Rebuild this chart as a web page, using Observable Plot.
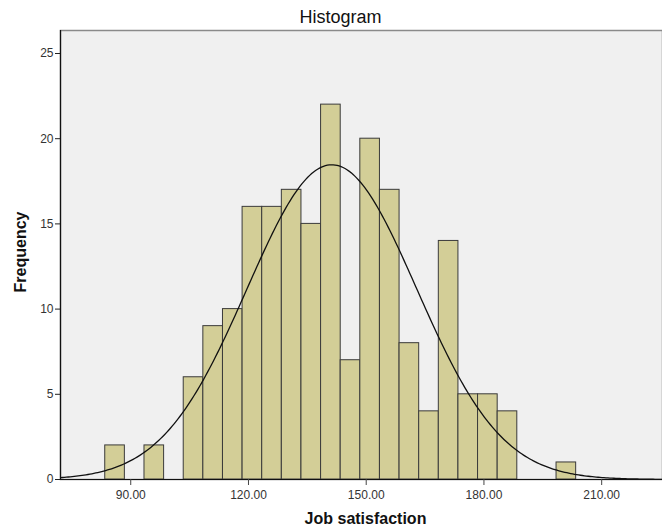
<!DOCTYPE html>
<html>
<head>
<meta charset="utf-8">
<script src="https://cdn.jsdelivr.net/npm/d3@7"></script>
<script src="https://cdn.jsdelivr.net/npm/@observablehq/plot@0.6"></script>
<style>
  html, body { margin: 0; padding: 0; background: #fff; }
  svg { font-family: "Liberation Sans", Arial, sans-serif; }
</style>
</head>
<body>
<div id="chart"></div>
<script>
// Bin left edges (width 5) and frequencies
const binStarts = [83.5, 88.5, 93.5, 98.5, 103.5, 108.5, 113.5, 118.5, 123.5, 128.5, 133.5, 138.5, 143.5, 148.5, 153.5, 158.5, 163.5, 168.5, 173.5, 178.5, 183.5, 188.5, 193.5, 198.5];
const counts    = [2,    0,    2,    0,    6,     9,     10,    16,    16,    17,    15,    22,    7,     20,    17,    8,     4,     14,    5,     5,     4,     0,     0,     1];
const binWidth = 5;
// Normal curve parameters (SPSS overlay)
const mean = 141.25;
const stdDev = 21.6;
const n = 200;
const xTicks = [90, 120, 150, 180, 210];
const yTicks = [0, 5, 10, 15, 20, 25];
const title = "Histogram";
const xLabel = "Job satisfaction";
const yLabel = "Frequency";

const bins = binStarts.map((s, i) => ({x1: s, x2: s + binWidth, y: counts[i]})).filter(d => d.y > 0);
const xDomain = [72.1, 225.5];
const curve = d3.range(xDomain[0], xDomain[1] + 0.5, 0.5).map(x => ({
  x,
  y: n * binWidth / (stdDev * Math.sqrt(2 * Math.PI)) * Math.exp(-0.5 * ((x - mean) / stdDev) ** 2)
}));

const chart = Plot.plot({
  width: 662,
  height: 532,
  marginLeft: 60,
  marginRight: 0,
  marginTop: 30,
  marginBottom: 53,
  style: {fontFamily: "'Liberation Sans', Arial, sans-serif", fontSize: "12px", color: "#333", background: "#fff"},
  x: {domain: xDomain},
  y: {domain: [0, 26.35]},
  marks: [
    Plot.frame({fill: "#f0f0f0", stroke: "#8a8a8a", strokeWidth: 1.5}),
    Plot.rectY(bins, {x1: "x1", x2: "x2", y: "y", fill: "#d3ce97", stroke: "#3a3a3a", strokeWidth: 1, inset: 0}),
    Plot.line(curve, {x: "x", y: "y", stroke: "#111", strokeWidth: 1.3, clip: true}),
    Plot.ruleX([xDomain[0]], {stroke: "#111", strokeWidth: 1.2}),
    Plot.ruleY([0], {stroke: "#111", strokeWidth: 1.2}),
    Plot.axisX(xTicks, {tickFormat: d => d.toFixed(2), tickSize: 6, tickPadding: 5, stroke: "#444", fill: "#333", label: null, fontSize: 12}),
    Plot.axisY(yTicks, {tickSize: 5, tickPadding: 2, stroke: "#222", fill: "#333", label: null, fontSize: 12}),
    Plot.text([title], {frameAnchor: "top", dx: -21, dy: -13, text: d => d, fontSize: 18, fill: "#111", lineAnchor: "middle", textAnchor: "middle"}),
    Plot.text([xLabel], {frameAnchor: "bottom", dx: 4, dy: 39, text: d => d, fontSize: 16, fontWeight: "bold", fill: "#111", lineAnchor: "middle", textAnchor: "middle"}),
    Plot.text([yLabel], {frameAnchor: "left", dx: -40, dy: -3, rotate: -90, text: d => d, fontSize: 16, fontWeight: "bold", fill: "#111", lineAnchor: "middle", textAnchor: "middle"})
  ]
});
document.getElementById("chart").appendChild(chart);
</script>
</body>
</html>
